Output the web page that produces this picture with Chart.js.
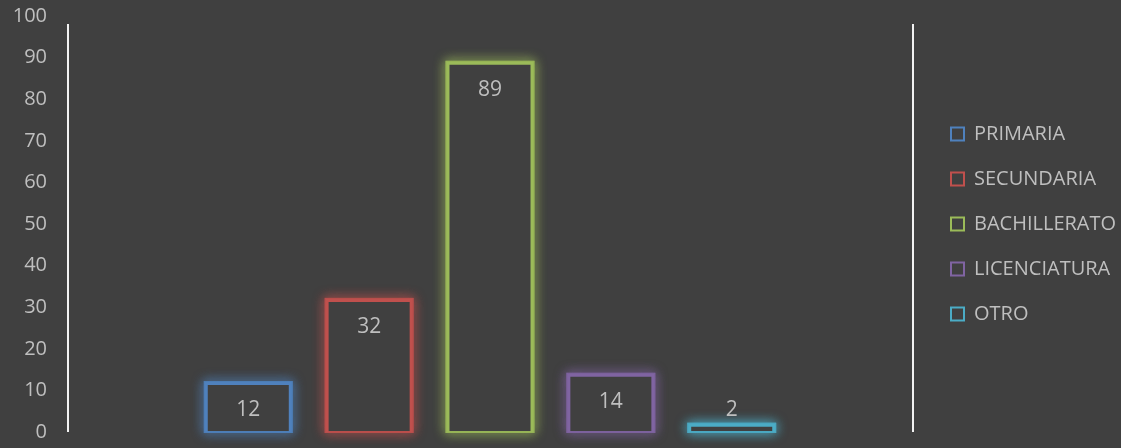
<!DOCTYPE html>
<html>
<head>
<meta charset="utf-8">
<script src="https://cdn.jsdelivr.net/npm/chart.js@4"></script>
<style>
  html, body { margin: 0; padding: 0; background: #404040; }
  #wrap { width: 1121px; height: 448px; }
</style>
</head>
<body>
<div id="wrap"><canvas id="nivelChart"></canvas></div>
<script>
// data
const categories = ["PRIMARIA", "SECUNDARIA", "BACHILLERATO", "LICENCIATURA", "OTRO"];
const values = [12, 32, 89, 14, 2];
const barColors = ["#4F81BD", "#C0504D", "#9BBB59", "#8064A2", "#4BACC6"];
const yMin = 0, yMax = 100, yStep = 10;

// an empty slot on each side, like the original
const slotLabels = [""].concat(categories, [""]);
const slotValues = [null].concat(values, [null]);
const slotColors = ["transparent"].concat(barColors, ["transparent"]);

const textColor = "#bfbfbf";
const fontFamily = "'Open Sans', 'Noto Sans', sans-serif";

// glow around each bar outline
const glowPlugin = {
    id: "glow",
    beforeDatasetsDraw(chart) {
        const ctx = chart.ctx;
        const meta = chart.getDatasetMeta(0);
        meta.data.forEach((bar, i) => {
            if (slotValues[i] == null) return;
            const p = bar.getProps(["x", "y", "base", "width"], true);
            const left = p.x - p.width / 2, top = Math.min(p.y, p.base);
            const h = Math.abs(p.base - p.y);
            ctx.save();
            ctx.beginPath();
            ctx.rect(0, 0, chart.width, chart.height);
            ctx.rect(left + 1, top + 1, p.width - 2, h - 2);
            ctx.clip("evenodd");
            ctx.shadowColor = slotColors[i];
            ctx.shadowBlur = 12;
            ctx.strokeStyle = slotColors[i];
            ctx.globalAlpha = 0.7;
            ctx.lineWidth = 5;
            ctx.strokeRect(left + 1.5, top + 1.5, p.width - 3, h - 3);
            ctx.strokeRect(left + 1.5, top + 1.5, p.width - 3, h - 3);
            ctx.restore();
        });
    },
    afterDatasetsDraw(chart) {
        // value labels
        const ctx = chart.ctx;
        const meta = chart.getDatasetMeta(0);
        ctx.save();
        ctx.fillStyle = textColor;
        ctx.font = "21px " + fontFamily;
        ctx.textAlign = "center";
        ctx.textBaseline = "middle";
        meta.data.forEach((bar, i) => {
            if (slotValues[i] == null) return;
            const h = bar.base - bar.y;
            const y = h > 40 ? bar.y + 28 : bar.y - 14;
            ctx.fillText(String(slotValues[i]), bar.x, y);
        });
        ctx.restore();
    },
    afterDraw(chart) {
        // white side lines
        const a = chart.chartArea;
        const ctx = chart.ctx;
        ctx.save();
        ctx.strokeStyle = "#f2f2f2";
        ctx.lineWidth = 2;
        ctx.beginPath();
        ctx.moveTo(a.left + 1, a.top + 8);
        ctx.lineTo(a.left + 1, a.bottom);
        ctx.moveTo(a.right, a.top + 8);
        ctx.lineTo(a.right, a.bottom);
        ctx.stroke();
        ctx.restore();
    }
};

const ctx = document.getElementById("nivelChart").getContext("2d");
new Chart(ctx, {
    type: "bar",
    data: {
        labels: slotLabels,
        datasets: [{
            data: slotValues,
            backgroundColor: "rgba(0,0,0,0)",
            borderColor: slotColors,
            borderWidth: 3,
            categoryPercentage: 1,
            barPercentage: 0.72,
        }],
    },
    options: {
        responsive: true,
        maintainAspectRatio: false,
        animation: false,
        layout: { padding: { top: 16, bottom: 16, left: 0, right: 0 } },
        plugins: {
            tooltip: { enabled: false },
            legend: {
                position: "right",
                align: "center",
                maxWidth: 195,
                labels: {
                    color: textColor,
                    font: { size: 20, family: fontFamily },
                    boxWidth: 13,
                    boxHeight: 13,
                    padding: 25,
                    generateLabels: () => categories.map((c, i) => ({
                        text: c,
                        fillStyle: "#404040",
                        strokeStyle: barColors[i],
                        lineWidth: 2,
                        fontColor: textColor,
                        hidden: false,
                        datasetIndex: 0,
                        index: i,
                    })),
                },
                onClick: () => {},
            },
        },
        scales: {
            x: { display: false },
            y: {
                min: yMin,
                max: yMax,
                ticks: {
                    stepSize: yStep,
                    color: textColor,
                    padding: 12,
                    font: { size: 20, family: fontFamily },
                },
                grid: { display: false },
                border: { display: false },
                afterFit: (axis) => {
                    axis.width = 67;
                    axis.paddingTop = 0;
                    axis.paddingBottom = 0;
                },
            },
            y2: {
                position: "right",
                min: yMin,
                max: yMax,
                ticks: { display: false },
                grid: { display: false },
                border: { display: false },
                afterFit: (axis) => { axis.width = 13; },
            },
        },
    },
    plugins: [glowPlugin],
});
</script>
</body>
</html>
